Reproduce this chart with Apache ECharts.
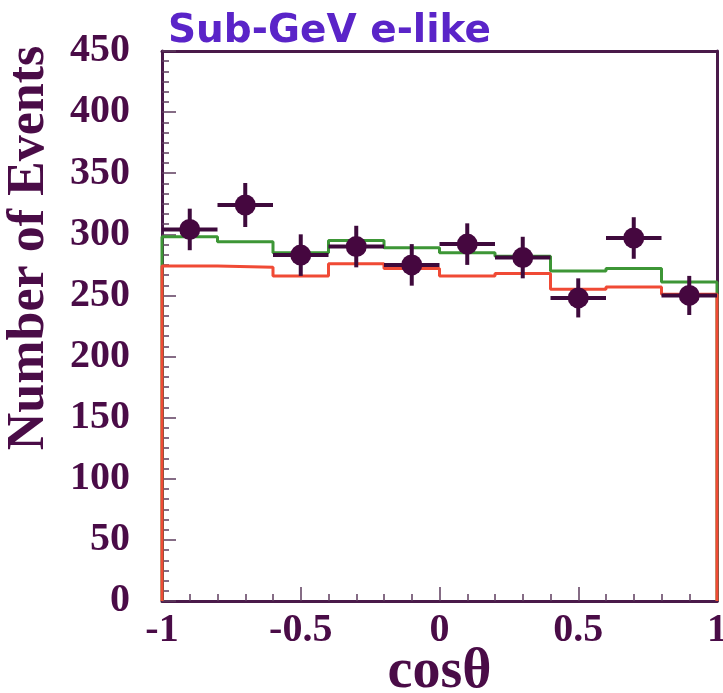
<!DOCTYPE html>
<html>
<head>
<meta charset="utf-8">
<script src="https://cdn.jsdelivr.net/npm/echarts@6/dist/echarts.min.js"></script>
<style>
html,body{margin:0;padding:0;background:#ffffff;}
#chart{width:723px;height:693px;}
</style>
</head>
<body>
<div id="chart"></div>
<script>
// ---- data ----
var binEdges = [-1, -0.8, -0.6, -0.4, -0.2, 0, 0.2, 0.4, 0.6, 0.8, 1];
var binCenters = [-0.9, -0.7, -0.5, -0.3, -0.1, 0.1, 0.3, 0.5, 0.7, 0.9];
var dataEvents = [304, 324, 283, 290, 275, 292, 281, 248, 297, 250];
var dataErrors = [17, 18, 17, 17, 17, 17, 17, 16, 17, 16];
var mcNoOsc = [298, 294, 285, 295, 289, 285, 282, 270, 272, 261];   // green
var mcOsc = [274, 273, 266, 276, 272, 266, 268, 255, 257, 251];     // red
var xTickLabels = ['-1', '-0.5', '0', '0.5', '1'];
var yTickLabels = ['0', '50', '100', '150', '200', '250', '300', '350', '400', '450'];
var titleText = 'Sub-GeV e-like';
var xName = 'cosθ';
var yName = 'Number of Events';

// histogram outline built from bin edges and contents
function histOutline(vals) {
  var pts = [[binEdges[0], 0]];
  for (var i = 0; i < vals.length; i++) {
    pts.push([binEdges[i], vals[i]]);
    pts.push([binEdges[i + 1], vals[i]]);
  }
  pts.push([binEdges[binEdges.length - 1], 0]);
  return pts;
}
var pointData = binCenters.map(function (c, i) {
  return [c, dataEvents[i], dataErrors[i], binEdges[i], binEdges[i + 1]];
});

var purple = '#4a0c47';
var axisCol = '#4a1a4a';
var tickCol = '#5e3c5e';
var serif = '"Liberation Serif", "Times New Roman", serif';

var chart = echarts.init(document.getElementById('chart'), null, {renderer: 'canvas'});
chart.setOption({
  backgroundColor: '#ffffff',
  animation: false,
  title: {
    text: titleText,
    left: 163,
    top: 7,
    textStyle: {
      fontFamily: '"DejaVu Sans", sans-serif',
      fontWeight: 'bold',
      fontSize: 39,
      color: '#5a24c8'
    }
  },
  grid: {
    left: 162, right: 6, top: 51, bottom: 92,
    outerBoundsMode: 'none', containLabel: false
  },
  xAxis: [{
    type: 'value', min: -1, max: 1, interval: 0.5, position: 'bottom',
    name: xName, nameLocation: 'middle', nameGap: 44, nameMoveOverlap: false,
    nameTextStyle: {fontFamily: serif, fontWeight: 'bold', fontSize: 56, color: purple},
    axisLine: {show: true, onZero: false, lineStyle: {color: axisCol, width: 3}},
    axisTick: {show: true, inside: true, length: 14, lineStyle: {color: tickCol, width: 1.5}},
    minorTick: {show: true, splitNumber: 5, length: 7, lineStyle: {color: tickCol, width: 1.5}},
    splitLine: {show: false},
    axisLabel: {
      margin: 10, fontFamily: serif, fontWeight: 'bold', fontSize: 40, color: purple,
      formatter: function (v) {
        var idx = Math.round((v + 1) / 0.5);
        return xTickLabels[idx];
      }
    }
  }, {
    type: 'value', min: -1, max: 1, position: 'top',
    axisLine: {show: true, onZero: false, lineStyle: {color: axisCol, width: 3}},
    axisTick: {show: false}, axisLabel: {show: false}, splitLine: {show: false}
  }],
  yAxis: [{
    type: 'value', min: 0, max: 450, interval: 50, position: 'left',
    axisLine: {show: true, onZero: false, lineStyle: {color: axisCol, width: 3}},
    axisTick: {show: true, inside: true, length: 14, lineStyle: {color: tickCol, width: 1.5}},
    minorTick: {show: true, splitNumber: 6, length: 7, lineStyle: {color: tickCol, width: 1.5}},
    splitLine: {show: false},
    axisLabel: {
      margin: 32, fontFamily: serif, fontWeight: 'bold', fontSize: 40, color: purple,
      formatter: function (v) { return yTickLabels[Math.round(v / 50)]; }
    }
  }, {
    type: 'value', min: 0, max: 450, position: 'right',
    axisLine: {show: true, onZero: false, lineStyle: {color: axisCol, width: 3}},
    axisTick: {show: false}, axisLabel: {show: false}, splitLine: {show: false}
  }],
  graphic: [{
    type: 'text',
    x: 30, y: 248,
    rotation: Math.PI / 2,
    style: {
      text: yName,
      fontFamily: serif, fontWeight: 'bold', fontSize: 52,
      fill: purple, align: 'center', verticalAlign: 'middle'
    }
  }],
  series: [
    {
      type: 'line', data: histOutline(mcNoOsc), showSymbol: false, clip: false,
      lineStyle: {color: '#3d9636', width: 3}, z: 3
    },
    {
      type: 'line', data: histOutline(mcOsc), showSymbol: false, clip: false,
      lineStyle: {color: '#f04a35', width: 3}, z: 4
    },
    {
      type: 'custom', data: pointData, z: 5, clip: false,
      renderItem: function (params, api) {
        var x = api.value(0), y = api.value(1), e = api.value(2);
        var lo = api.value(3), hi = api.value(4);
        var c = api.coord([x, y]);
        var top = api.coord([x, y + e]);
        var bot = api.coord([x, y - e]);
        var left = api.coord([lo, y]);
        var right = api.coord([hi, y]);
        var st = {stroke: '#3e0a3c', lineWidth: 4};
        return {
          type: 'group',
          children: [
            {type: 'line', shape: {x1: top[0], y1: top[1], x2: bot[0], y2: bot[1]}, style: st},
            {type: 'line', shape: {x1: left[0], y1: left[1], x2: right[0], y2: right[1]}, style: st},
            {type: 'circle', shape: {cx: c[0], cy: c[1], r: 10.5}, style: {fill: '#45073f'}}
          ]
        };
      }
    }
  ]
});
</script>
</body>
</html>
